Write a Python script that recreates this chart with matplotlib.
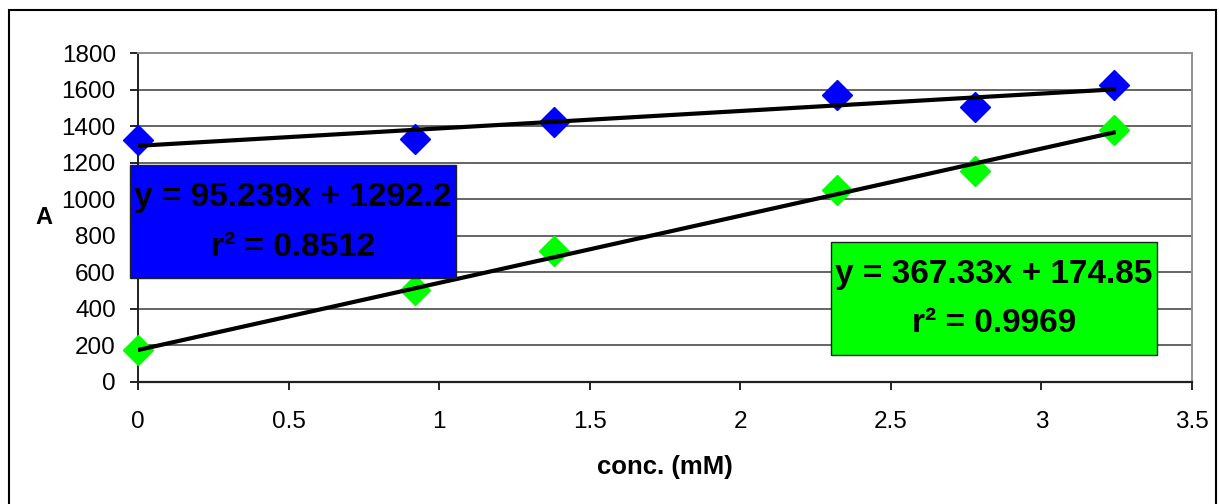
import numpy as np
import matplotlib.pyplot as plt
from matplotlib.patches import Rectangle

plt.rcParams['font.family'] = ['Liberation Sans', 'DejaVu Sans']

# data
conc = [0, 0.92, 1.38, 2.32, 2.78, 3.24]
blue_vals = [1324, 1329, 1422, 1570, 1504, 1625]
green_vals = [175, 503, 717, 1050, 1154, 1378]

# trendline coefficients (slope, intercept, r^2)
blue_fit = [95.239, 1292.2, 0.8512]
green_fit = [367.33, 174.85, 0.9969]

xticks = [0, 0.5, 1, 1.5, 2, 2.5, 3, 3.5]
xticklabels = ['0', '0.5', '1', '1.5', '2', '2.5', '3', '3.5']
yticks = [0, 200, 400, 600, 800, 1000, 1200, 1400, 1600, 1800]

W, H = 1219, 504
fig = plt.figure(figsize=(W / 100, H / 100), dpi=100)

def fx(px):
    return px / W

def fy(py):
    return 1 - py / H

ax = fig.add_axes([fx(138), fy(382), fx(1192) - fx(138), fy(53) - fy(382)])

# outer chart border
fig.patches.append(Rectangle((fx(9), fy(520)), fx(1216) - fx(9), fy(10) - fy(520),
                             transform=fig.transFigure, fill=False, ec='black', lw=1.5))

ax.set_xlim(0, 3.5)
ax.set_ylim(0, 1800)
ax.set_yticks(yticks)
ax.set_xticks(xticks)
ax.set_xticklabels(xticklabels)
ax.yaxis.grid(True, color='#4a4a4a', lw=1.2)
ax.set_axisbelow(True)

for s in ['top', 'right']:
    ax.spines[s].set_color('#909090')
    ax.spines[s].set_linewidth(1.4)
ax.spines['left'].set_color('#202020')
ax.spines['bottom'].set_color('#202020')
ax.spines['left'].set_linewidth(1.4)
ax.spines['bottom'].set_linewidth(1.6)

ax.tick_params(axis='both', direction='out', length=6, width=1.2, labelsize=17.5)
ax.tick_params(axis='x', pad=15)
ax.tick_params(axis='y', pad=10)

xs = np.array([conc[0], conc[-1]])
ax.plot(xs, blue_fit[0] * xs + blue_fit[1], color='black', lw=3, zorder=4)
ax.plot(xs, green_fit[0] * xs + green_fit[1], color='black', lw=3, zorder=4)

ax.plot(conc, blue_vals, 'D', color='#0000ff', ms=15.5, mec='#0000ff', clip_on=False, zorder=3)
ax.plot(conc, green_vals, 'D', color='#00ff00', ms=15.5, mec='#00ff00', clip_on=False, zorder=3)

ax.set_xlabel('conc. (mM)', fontsize=18.5, fontweight='bold', labelpad=16)
fig.text(fx(44), fy(217), 'A', fontsize=17, fontweight='bold', ha='center', va='center')

# equation boxes
def eq_box(x0, y0, x1, y1, fc, fit):
    fig.patches.append(Rectangle((fx(x0), fy(y1)), fx(x1) - fx(x0), fy(y0) - fy(y1),
                                 transform=fig.transFigure, fc=fc, ec='#202020', lw=1.0, zorder=5))
    cx = fx((x0 + x1) / 2)
    fig.text(cx, fy(y0 + 33), 'y = %sx + %s' % (fit[0], fit[1]), fontsize=24,
             fontweight='bold', ha='center', va='center', zorder=6)
    fig.text(cx, fy(y0 + 82), 'r\u00b2 = %s' % fit[2], fontsize=24,
             fontweight='bold', ha='center', va='center', zorder=6)

eq_box(130, 165, 456, 278, '#0000ff', blue_fit)
eq_box(831, 242, 1157, 355, '#00ff00', green_fit)

fig.savefig('out.png', dpi=100)
